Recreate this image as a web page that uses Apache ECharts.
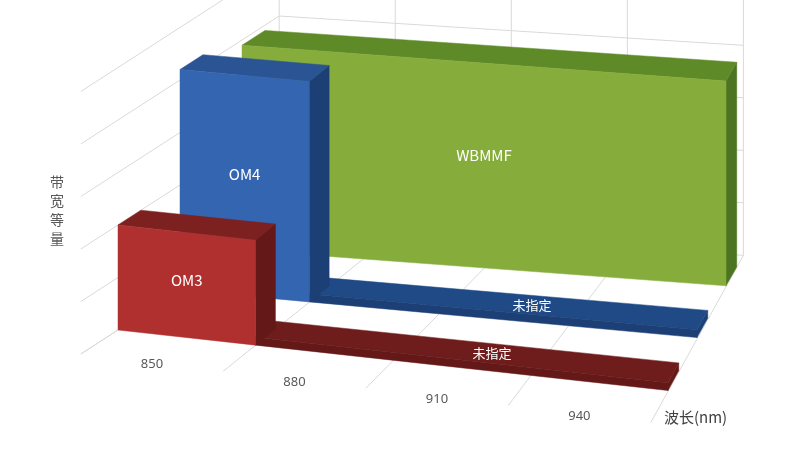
<!DOCTYPE html>
<html><head><meta charset="utf-8">
<script src="https://cdn.jsdelivr.net/npm/echarts@6/dist/echarts.min.js"></script>
<style>html,body{margin:0;background:#fff}#c{width:811px;height:451px}</style>
</head><body><div id="c"></div>
<script>
const categories=['850','880','910','940'];
const seriesNames=['OM3','OM4','WBMMF'];
const barStart=[835,835,835];
const barEnd=[865,865,955];
const barHeight=[2,4.2,3.9];
const stripeStart=[865,865,null];
const stripeEnd=[955,955,null];
const stripeHeight=[0.15,0.15,null];
const stripeLabel='未指定';
const wallLevels=[0,1,2,3,4,5];
const xName='波长(nm)';
const yName='带宽等量';

const colors=[
 {front:'#b03030',top:'#7c2020',side:'#651818',stripe:'#6e1c1c'},
 {front:'#3465b0',top:'#2a5493',side:'#1c3f75',stripe:'#1f4a86'},
 {front:'#86ad3b',top:'#5f8a28',side:'#4d7420',stripe:'#5f8a28'}
];
const D=0.37, WALL_R=2.6, FRONT_R=-0.6;
const items=[];
wallLevels.forEach(h=>items.push({t:'wallH',h}));
categories.forEach((c,i)=>items.push({t:'wallV',x:835+30*i}));
items.push({t:'wallV',x:955});
categories.forEach((c,i)=>items.push({t:'cat',x:850+30*i,text:c}));
for(let s=2;s>=0;s--){
  if(stripeStart[s]!=null) items.push({t:'box',x1:stripeStart[s],x2:stripeEnd[s],h:stripeHeight[s],r:s,c:colors[s],label:stripeLabel,flat:true});
  items.push({t:'box',x1:barStart[s],x2:barEnd[s],h:barHeight[s],r:s,c:colors[s],label:seriesNames[s]});
}
function P(api,x,h,r){
  const a=api.coord([x,h]);
  const dxF=a[0]-118, k=1-0.06*r;
  return [118+dxF*k+r*62, a[1]+(0.11-0.018*r)*dxF*k-r*40];
}
function poly(pts,fill){return {type:'polygon',shape:{points:pts},style:{fill:fill,stroke:fill,lineWidth:0.5}};}
function renderItem(params,api){
  const it=items[params.dataIndex];
  const line='#d9d9d9';
  if(it.t==='wallH'){
    return {type:'polyline',shape:{points:[P(api,835,it.h,FRONT_R),P(api,835,it.h,WALL_R),P(api,955,it.h,WALL_R)]},style:{stroke:line,fill:null,lineWidth:1}};
  }
  if(it.t==='wallV'){
    return {type:'polyline',shape:{points:[P(api,it.x,0,FRONT_R),P(api,it.x,0,WALL_R),P(api,it.x,5,WALL_R)]},style:{stroke:line,fill:null,lineWidth:1}};
  }
  if(it.t==='cat'){
    const p=P(api,it.x,0,FRONT_R);
    return {type:'text',x:p[0],y:p[1]+2,style:{text:it.text,fill:'#595959',font:'13px "Noto Sans", sans-serif',align:'center',verticalAlign:'middle'}};
  }
  const {x1,x2,h,r,c}=it;
  const ch=[];
  ch.push(poly([P(api,x2,0,r),P(api,x2,0,r+D),P(api,x2,h,r+D),P(api,x2,h,r)],c.side));
  ch.push(poly([P(api,x1,h,r),P(api,x2,h,r),P(api,x2,h,r+D),P(api,x1,h,r+D)],it.flat?c.stripe:c.top));
  ch.push(poly([P(api,x1,0,r),P(api,x2,0,r),P(api,x2,h,r),P(api,x1,h,r)],it.flat?c.side:c.front));
  let lp;
  if(it.flat){const a=P(api,(x1+x2)/2+5,h,r+D/2);lp=a;}
  else{const a=P(api,(x1+x2)/2,h*0.55,r);lp=a;}
  ch.push({type:'text',x:lp[0],y:lp[1],style:{text:it.label,fill:'#fff',font:(it.flat?'13px':'15px')+' "Noto Sans CJK SC", sans-serif',align:'center',verticalAlign:'middle'}});
  return {type:'group',children:ch};
}
const chart=echarts.init(document.getElementById('c'));
chart.setOption({
  animation:false,
  grid:{left:118,width:550,top:15,bottom:121},
  xAxis:{type:'value',min:835,max:955,show:false},
  yAxis:{type:'value',min:0,max:6,show:false},
  graphic:[
    {type:'text',left:50,top:172,style:{text:yName.split('').join('\n'),fill:'#595959',font:'14px "Noto Sans CJK SC"',lineHeight:19}},
    {type:'text',left:664,top:410,style:{text:xName,fill:'#404040',font:'15px "Noto Sans CJK SC"'}}
  ],
  series:[{type:'custom',clip:false,renderItem,data:items.map((_,i)=>[i])}]
});
</script></body></html>
